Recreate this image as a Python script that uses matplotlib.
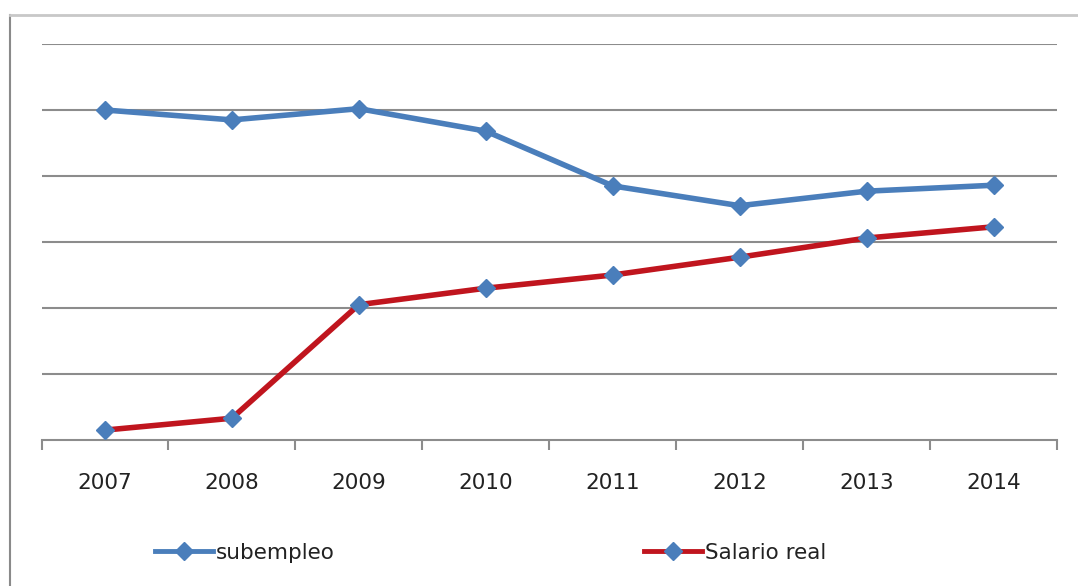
import matplotlib
matplotlib.use("Agg")
import matplotlib.pyplot as plt
from matplotlib.lines import Line2D

years = ["2007", "2008", "2009", "2010", "2011", "2012", "2013", "2014"]
subempleo = [5.00, 4.85, 5.02, 4.68, 3.85, 3.55, 3.77, 3.86]
salario_real = [0.15, 0.33, 2.05, 2.30, 2.50, 2.77, 3.06, 3.23]

plt.rcParams['font.family'] = ['DejaVu Sans']

fig = plt.figure(figsize=(10.78, 5.86), dpi=100)
ax = fig.add_axes([41.5 / 1078, 1 - 440 / 586, (1057 - 41.5) / 1078, (440 - 44) / 586])

x = list(range(len(years)))
azul = '#4A7EBB'
rojo = '#C0151E'

# gridlines a mano, estilo excel
for g in range(1, 7):
    ax.axhline(g, color='#8C8C8C', lw=1.5, zorder=1)

ax.plot(x, subempleo, color=azul, lw=4, marker='D', markersize=9.5,
        markerfacecolor=azul, markeredgecolor=azul, zorder=3)
ax.plot(x, salario_real, color=rojo, lw=4, marker='D', markersize=9.5,
        markerfacecolor=azul, markeredgecolor=azul, zorder=3)

ax.set_xlim(-0.5, len(years) - 0.5)
ax.set_ylim(0, 6)
ax.set_yticks([])
ax.set_xticks(x)
ax.set_xticklabels(years, fontsize=15.5, color='#222222')
ax.set_xticks([i - 0.5 for i in range(len(years) + 1)], minor=True)
ax.tick_params(axis='x', which='major', length=0, pad=24)
ax.tick_params(axis='x', which='minor', length=7, width=1.5, color='#8C8C8C', direction='out')
for s in ['top', 'right', 'left']:
    ax.spines[s].set_visible(False)
ax.spines['bottom'].set_color('#8C8C8C')
ax.spines['bottom'].set_linewidth(1.5)

# marco exterior
fig.add_artist(Line2D([10 / 1078, 10 / 1078], [0, 1 - 15 / 586], color='#8A8A8A', lw=1.5))
fig.add_artist(Line2D([10 / 1078, 1], [1 - 15 / 586, 1 - 15 / 586], color='#C8C8C8', lw=2))

h1 = Line2D([], [], color=azul, lw=3.5, marker='D', markersize=9, markerfacecolor=azul, markeredgecolor=azul)
h2 = Line2D([], [], color=rojo, lw=3.5, marker='D', markersize=9, markerfacecolor=azul, markeredgecolor=azul)
leg = fig.legend([h1, h2], ['subempleo', 'Salario real'], loc='center', ncol=2,
                 bbox_to_anchor=(0.455, 1 - 553 / 586), frameon=False, fontsize=15.5,
                 handlelength=2.7, handletextpad=0.1, columnspacing=14.4)
for t in leg.get_texts():
    t.set_color('#222222')

fig.savefig('out.png', dpi=100, facecolor='white')
